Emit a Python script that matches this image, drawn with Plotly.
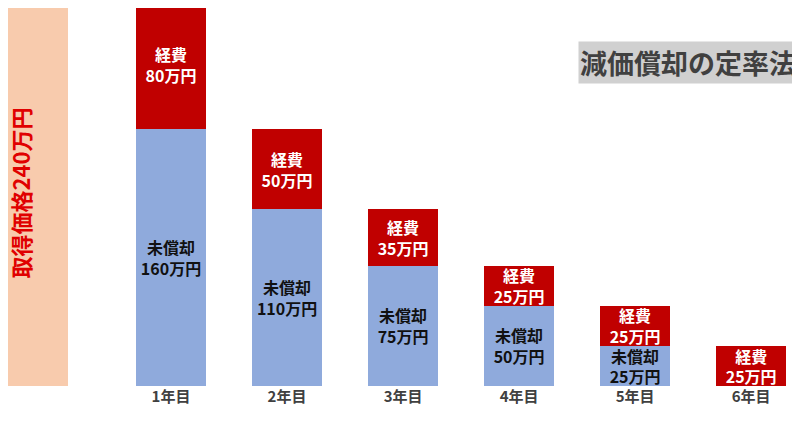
import plotly.graph_objects as go

years = ['1年目', '2年目', '3年目', '4年目', '5年目', '6年目']
book = [160, 110, 75, 50, 25, 0]
expense = [80, 50, 35, 25, 25, 25]
cost = 240

xs = list(range(1, 7))
font = 'Noto Sans CJK JP'

book_text = [f'<b>未償却<br>{v}万円</b>' if v else '' for v in book]
exp_text = [f'<b>経費<br>{v}万円</b>' for v in expense]

fig = go.Figure()
fig.add_bar(x=[-0.18], y=[cost], width=0.59, marker_color='#f8cbad',
            marker_line_width=0, hoverinfo='skip', cliponaxis=True)
fig.add_bar(x=xs, y=book, width=0.6, marker_color='#8faadc', marker_line_width=0,
            text=book_text, textposition='inside', insidetextanchor='middle',
            textfont=dict(family=font, size=16, color='#111111'))
fig.add_bar(x=xs, y=expense, width=0.6, marker_color='#c00000', marker_line_width=0,
            text=exp_text, textposition='inside', insidetextanchor='middle',
            textfont=dict(family=font, size=16, color='white'))

fig.add_annotation(x=-0.3, y=120, text='<b>取得価格240万円</b>', textangle=-90,
                   showarrow=False, font=dict(family=font, size=22, color='#e00000'))
fig.add_annotation(x=6.4, y=215, xanchor='right', yanchor='top',
                   text='<b>減価償却の定率法</b>', showarrow=False, bgcolor='#d0d0d0',
                   font=dict(family=font, size=27, color='#404040'))

fig.update_layout(
    barmode='stack', width=800, height=435, showlegend=False,
    margin=dict(l=0, r=0, t=0, b=57),
    paper_bgcolor='white', plot_bgcolor='white',
    uniformtext=dict(mode='show', minsize=16),
    font=dict(family=font),
)
fig.update_xaxes(range=[-0.405, 6.49], tickvals=xs, ticktext=[f'<b>{y}</b>' for y in years],
                 tickfont=dict(size=15, color='#404040'), showgrid=False, zeroline=False,
                 showline=False, ticklen=0)
fig.update_yaxes(range=[0, 235.4], visible=False)

fig.write_html('out.html')
